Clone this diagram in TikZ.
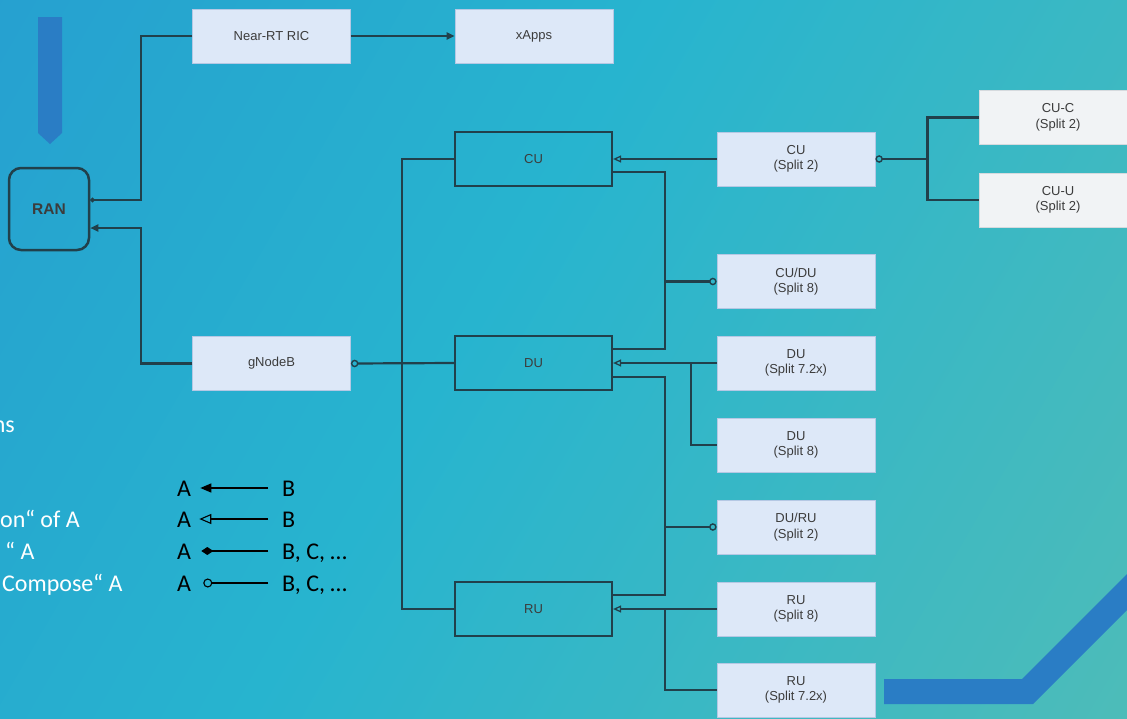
\documentclass[tikz,border=0pt]{standalone}
\usepackage{fontspec}
\setmainfont{Liberation Sans}
\newfontfamily\legendfont{Carlito}
\usetikzlibrary{arrows.meta}

\definecolor{bgA}{HTML}{2596D0}
\definecolor{bgB}{HTML}{27B4CF}
\definecolor{bgC}{HTML}{5CBFB0}
\definecolor{deco}{HTML}{2A7DC5}
\definecolor{boxfill}{HTML}{DDE8F8}
\definecolor{boxline}{HTML}{B5C8E4}
\definecolor{greyfill}{HTML}{F1F3F5}
\definecolor{greyline}{HTML}{D6DADE}
\definecolor{wire}{HTML}{21404B}
\definecolor{labelc}{HTML}{3C3C3C}

\pgfdeclarehorizontalshading{bgshade}{100bp}{color(0bp)=(bgA); color(45bp)=(bgB); color(100bp)=(bgC)}

\tikzset{
  box/.style={draw=boxline, fill=boxfill, line width=0.8pt, minimum width=158pt,
    minimum height=54pt, inner sep=0pt, text=labelc, align=center},
  greybox/.style={box, fill=greyfill, draw=greyline},
  abstract/.style={draw=wire, line width=2.2pt, minimum width=157pt, minimum height=54pt,
    inner sep=0pt, text=labelc},
  wire/.style={draw=wire, line width=2.2pt},
  filltip/.style={-{Triangle[length=8pt,width=7pt]}},
  opentip/.style={-{Triangle[open,length=8pt,width=7pt,line width=1.3pt]}},
  ringtail/.style={{Circle[open,length=7.5pt,width=7.5pt,line width=1.4pt]}-},
  legtext/.style={font=\legendfont\fontsize{24}{28}\selectfont, inner sep=0pt,
    text height=16pt, text depth=0pt},
  legwire/.style={draw=black, line width=1.3pt},
  fragment/.style={font=\legendfont\fontsize{24}{28}\selectfont, inner sep=0pt, text=white},
}

\begin{document}
\begin{tikzpicture}[x=1pt, y=-1pt, font=\fontsize{13}{15.5}\selectfont]
  % background
  \shade[shading=bgshade, shading angle=-30] (0,0) rectangle (1127,718);
  \useasboundingbox (0,0) rectangle (1127,718);

  % decorative shapes
  \fill[deco] (38,17) -- (62,17) -- (62,133) -- (50,144) -- (38,133) -- cycle;
  \fill[deco] (884,679) -- (1022,679) -- (1127,574) -- (1127,610) -- (1033,704) -- (884,704) -- cycle;

  % RAN
  \node[draw=wire, line width=2.5pt, rounded corners=12pt, minimum width=80pt,
        minimum height=82pt, font=\bfseries\fontsize{15.5}{18}\selectfont, text=labelc]
        (ran) at (49,209) {RAN};

  % top row
  \node[box] (ric) at (271.5,36) {Near-RT RIC};
  \node[box] (xapps) at (534,36) {xApps};
  \node[box] (gnb) at (271.5,363.5) {gNodeB};

  % abstract units
  \node[abstract] (cu) at (533.5,159) {CU};
  \node[abstract] (du) at (533.5,363) {DU};
  \node[abstract] (ru) at (533.5,609) {RU};

  % concrete splits
  \node[box] (cu2) at (796,159) {CU\\(Split 2)};
  \node[box] (cudu) at (796,281.5) {CU/DU\\(Split 8)};
  \node[box] (du72) at (796,363) {DU\\(Split 7.2x)};
  \node[box] (du8) at (796,445) {DU\\(Split 8)};
  \node[box] (duru) at (796,527) {DU/RU\\(Split 2)};
  \node[box] (ru8) at (796,609) {RU\\(Split 8)};
  \node[box] (ru72) at (796,690) {RU\\(Split 7.2x)};
  \node[greybox] (cuc) at (1058,117.5) {CU-C\\(Split 2)};
  \node[greybox] (cuu) at (1058,200) {CU-U\\(Split 2)};

  % RIC and gNodeB to RAN
  \draw[wire, filltip] (ric) -- (xapps);
  \draw[wire, -{Circle[length=4.5pt,width=4.5pt]}] (ric.west) -- ++(-51,0) |- ([yshift=9pt]ran.east);
  \draw[wire, filltip] (gnb.west) -- ++(-51,0) |- ([yshift=-19pt]ran.east);

  % gNodeB composed of CU, DU, RU
  \draw[wire, ringtail] (gnb.east) -- (du.west);
  \draw[wire] (cu.west) -- ++(-52,0) |- (ru.west);

  % CU split 2 and its C/U parts
  \draw[wire, opentip] (cu2.west) -- (cu.east);
  \draw[wire, ringtail] (cu2.east) -- ++(52,0) coordinate (cuj) |- (cuc.west);
  \draw[wire] (cuj) |- (cuu.west);

  % CU/DU combined
  \draw[wire, ringtail] (cudu.west) -- ++(-52,0) coordinate (cuduj);
  \draw[wire] ([yshift=-13pt]cu.east) -| (cuduj) |- ([yshift=14pt]du.east);

  % DU variants
  \draw[wire, opentip] (du72.west) -- (du.east);
  \path (du72.west) -- ++(-26,0) coordinate (duj);
  \draw[wire] (du8.west) -| (duj);

  % DU/RU combined
  \draw[wire, ringtail] (duru.west) -- ++(-52,0) coordinate (duruj);
  \draw[wire] ([yshift=-14pt]du.east) -| (duruj) |- ([yshift=14pt]ru.east);

  % RU variants
  \draw[wire, opentip] (ru8.west) -- (ru.east);
  \path (ru8.west) -- ++(-52,0) coordinate (ruj);
  \draw[wire] (ru72.west) -| (ruj);

  % legend text on the left
  \node[fragment, anchor=base east] (f1) at (15,432) {ns};
  \node[fragment, anchor=base west] (f2) at (0,527) {on“ of A};
  \node[fragment, anchor=base west] (f3) at (5,559) {“ A};
  \node[fragment, anchor=base west] (f4) at (2,591) {Compose“ A};

  % legend arrows
  \node[legtext, anchor=west] (la1) at (177,488) {A};
  \node[legtext, anchor=west] (lb1) at (282,488) {B};
  \node[legtext, anchor=west] (la2) at (177,519) {A};
  \node[legtext, anchor=west] (lb2) at (282,519) {B};
  \node[legtext, anchor=west] (la3) at (177,551) {A};
  \node[legtext, anchor=west] (lb3) at (282,551) {B, C, …};
  \node[legtext, anchor=west] (la4) at (177,583) {A};
  \node[legtext, anchor=west] (lb4) at (282,583) {B, C, …};

  \draw[legwire, -{Triangle[length=11pt,width=9pt]}] ([xshift=-14pt]lb1.west) -- ([xshift=9pt]la1.east);
  \draw[legwire, -{Triangle[open,length=12pt,width=10pt,line width=1.1pt]}] ([xshift=-14pt]lb2.west) -- ([xshift=8pt]la2.east);
  \draw[legwire, -{Diamond[length=12pt,width=8pt]}] ([xshift=-14pt]lb3.west) -- ([xshift=10pt]la3.east);
  \draw[legwire, -{Circle[open,length=9pt,width=9pt,line width=1.1pt]}] ([xshift=-14pt]lb4.west) -- ([xshift=12pt]la4.east);
\end{tikzpicture}
\end{document}
